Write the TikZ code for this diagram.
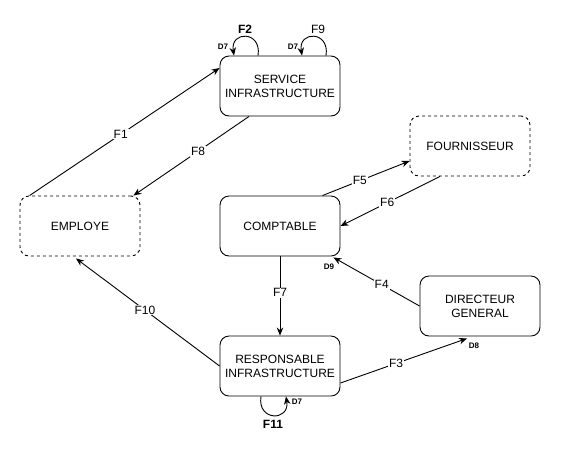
\documentclass[tikz,border=0pt]{standalone}
\usepackage{fontspec}
\setmainfont{Liberation Sans}
\usetikzlibrary{arrows.meta}
\begin{document}
\begin{tikzpicture}[x=1pt,y=-1pt,
  box/.style={draw,line width=0.9pt,rounded corners=9pt,minimum width=120pt,minimum height=60pt,inner sep=0pt,align=center,font=\fontsize{12}{14}\selectfont},
  dbox/.style={box,dash pattern=on 3pt off 3pt},
  arr/.style={line width=0.9pt,-{Stealth[length=8pt,width=6.5pt]}},
  lbl/.style={fill=white,inner sep=1pt,font=\fontsize{12}{14}\selectfont},
  blbl/.style={inner sep=0pt,font=\bfseries\fontsize{12}{14}\selectfont},
  dl/.style={inner sep=0pt,font=\bfseries\fontsize{8}{9}\selectfont}]
\useasboundingbox[fill=white] (0,0) rectangle (561,456);
\node[box] (svc) at (280,86) {SERVICE\\INFRASTRUCTURE};
\node[dbox] (four) at (470,146) {FOURNISSEUR};
\node[dbox] (emp) at (80,226) {EMPLOYE};
\node[box] (comp) at (280,226) {COMPTABLE};
\node[box] (dir) at (480,306) {DIRECTEUR\\GENERAL};
\node[box] (resp) at (280,366) {RESPONSABLE\\INFRASTRUCTURE};

\draw[arr] ([xshift=10pt]emp.north west) -- node[lbl,pos=0.48]{F1} ([yshift=18pt]svc.west);
\draw[arr] ([xshift=-31pt]svc.south) -- node[lbl,pos=0.44]{F8} ([xshift=-7pt]emp.north east);
\draw[arr] ([xshift=-18pt]comp.north east) -- node[lbl,pos=0.43]{F5} ([yshift=-15pt]four.west);
\draw[arr] ([xshift=-30pt]four.south) -- node[lbl,pos=0.53]{F6} (comp.east);
\draw[arr] (comp.south) -- node[lbl,pos=0.46]{F7} (resp.north);
\draw[arr] (dir.west) -- node[lbl,pos=0.44]{F4} ([xshift=-7pt,yshift=-1pt]comp.south east);
\draw[arr] (resp.west) -- node[lbl,pos=0.52]{F10} ([xshift=-4pt,yshift=-2pt]emp.south);
\draw[arr] ([yshift=-17pt]resp.east) -- node[lbl,pos=0.44]{F3} ([xshift=-13pt,yshift=-2pt]dir.south);

% self loops
\draw[arr] ([xshift=-22pt]svc.north) .. controls +(4,-25) and +(-4,-25) .. ([xshift=-46pt]svc.north);
\draw[arr] ([xshift=46pt]svc.north) .. controls +(4,-25) and +(-4,-25) .. ([xshift=22pt]svc.north);
\draw[arr] ([xshift=-19pt]resp.south) .. controls +(-4,25) and +(4,25) .. ([xshift=6pt]resp.south);

\node[blbl] (f2) at (245,29) {F2};
\node[lbl,fill=none,inner sep=0pt] (f9) at (318,29) {F9};
\node[blbl] (f11) at (273,424) {F11};
\node[dl] (d7a) at (223,47) {D7};
\node[dl] (d7b) at (293,47) {D7};
\node[dl] (d7c) at (297,402) {D7};
\node[dl] (d9) at (329,267) {D9};
\node[dl] (d8) at (474,346) {D8};
\end{tikzpicture}
\end{document}
